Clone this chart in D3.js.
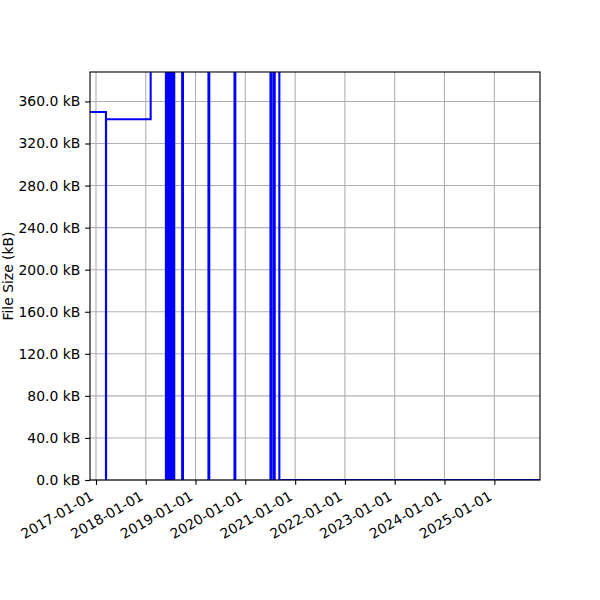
<!DOCTYPE html>
<html>
<head>
<meta charset="utf-8">
<script src="https://cdn.jsdelivr.net/npm/d3@7"></script>
<style>
  html, body { margin: 0; padding: 0; background: #fff; }
  svg { display: block; }
  text { font-family: "DejaVu Sans", sans-serif; fill: #000; }
</style>
</head>
<body>
<svg id="chart" width="600" height="600"></svg>
<script>
// ---- data (step-after series: each value holds until the next date) ----
const dates = [
  "2016-11-18", "2017-03-15", "2017-03-16", "2018-02-06",
  "2018-05-29", "2018-06-07", "2018-06-17", "2018-06-26",
  "2018-07-05", "2018-07-14", "2018-07-21", "2018-07-29",
  "2018-09-25", "2018-10-01", "2019-04-06", "2019-04-12",
  "2019-10-14", "2019-10-20", "2020-07-04", "2020-07-11",
  "2020-07-28", "2020-08-04", "2020-09-07", "2025-12-02"
];
const sizesKB = [
  350, 0, 343, 1200,
  0, 1200, 0, 1200,
  0, 1200, 0, 1200,
  0, 1200, 0, 1200,
  0, 1200, 0, 1200,
  0, 1200, 0, 0
];
const xDomain = ["2016-11-18", "2025-12-02"];
const yDomain = [0, 388];
const xTickLabels = ["2017-01-01", "2018-01-01", "2019-01-01", "2020-01-01",
  "2021-01-01", "2022-01-01", "2023-01-01", "2024-01-01", "2025-01-01"];
const yTickValues = [0, 40, 80, 120, 160, 200, 240, 280, 320, 360];
const yLabel = "File Size (kB)";

// ---- layout ----
const plotL = 90, plotR = 540, plotT = 72, plotB = 480;
const parse = d3.utcParse("%Y-%m-%d");
const svg = d3.select("#chart");

const x = d3.scaleUtc().domain(xDomain.map(parse)).range([plotL, plotR]);
const y = d3.scaleLinear().domain(yDomain).range([plotB, plotT]);

const data = dates.map((d, i) => ({ date: parse(d), v: sizesKB[i] }));
const xTicks = xTickLabels.map(parse);

// grid
const grid = svg.append("g");
grid.selectAll("line.vx").data(xTicks).join("line")
  .attr("x1", d => x(d)).attr("x2", d => x(d))
  .attr("y1", plotT).attr("y2", plotB)
  .attr("stroke", "#b0b0b0").attr("stroke-width", 1.1);
grid.selectAll("line.hy").data(yTickValues).join("line")
  .attr("x1", plotL).attr("x2", plotR)
  .attr("y1", d => y(d)).attr("y2", d => y(d))
  .attr("stroke", "#b0b0b0").attr("stroke-width", 1.1);

// clip
svg.append("defs").append("clipPath").attr("id", "clip")
  .append("rect").attr("x", plotL).attr("y", plotT)
  .attr("width", plotR - plotL).attr("height", plotB - plotT);

// line
const line = d3.line()
  .x(d => x(d.date)).y(d => y(d.v))
  .curve(d3.curveStepAfter);
svg.append("path").datum(data)
  .attr("clip-path", "url(#clip)")
  .attr("d", line)
  .attr("fill", "none")
  .attr("stroke", "#0000ff")
  .attr("stroke-width", 2.08)
  .attr("stroke-linejoin", "miter");

// axes
const xAxis = d3.axisBottom(x).tickValues(xTicks)
  .tickFormat(d3.utcFormat("%Y-%m-%d")).tickSize(4.86).tickPadding(4.9);
const gx = svg.append("g").attr("transform", `translate(0,${plotB})`).call(xAxis);
gx.select(".domain").remove();
gx.selectAll(".tick line").attr("stroke", "#000").attr("stroke-width", 1.1);
gx.selectAll(".tick text")
  .attr("font-size", 13.9)
  .attr("text-anchor", "end")
  .attr("dy", null)
  .attr("y", 0)
  .attr("transform", "translate(-2,19) rotate(-30)");

const yAxis = d3.axisLeft(y).tickValues(yTickValues)
  .tickFormat(d => d.toFixed(1) + " kB").tickSize(4.86).tickPadding(4.9);
const gy = svg.append("g").attr("transform", `translate(${plotL},0)`).call(yAxis);
gy.select(".domain").remove();
gy.selectAll(".tick line").attr("stroke", "#000").attr("stroke-width", 1.1);
gy.selectAll(".tick text").attr("font-size", 13.9);

// spines
svg.append("rect").attr("x", plotL).attr("y", plotT)
  .attr("width", plotR - plotL).attr("height", plotB - plotT)
  .attr("fill", "none").attr("stroke", "#000").attr("stroke-width", 1.1);

// y label
svg.append("text")
  .attr("transform", `translate(13,${(plotT + plotB) / 2}) rotate(-90)`)
  .attr("text-anchor", "middle")
  .attr("font-size", 13.9)
  .text(yLabel);
</script>
</body>
</html>
